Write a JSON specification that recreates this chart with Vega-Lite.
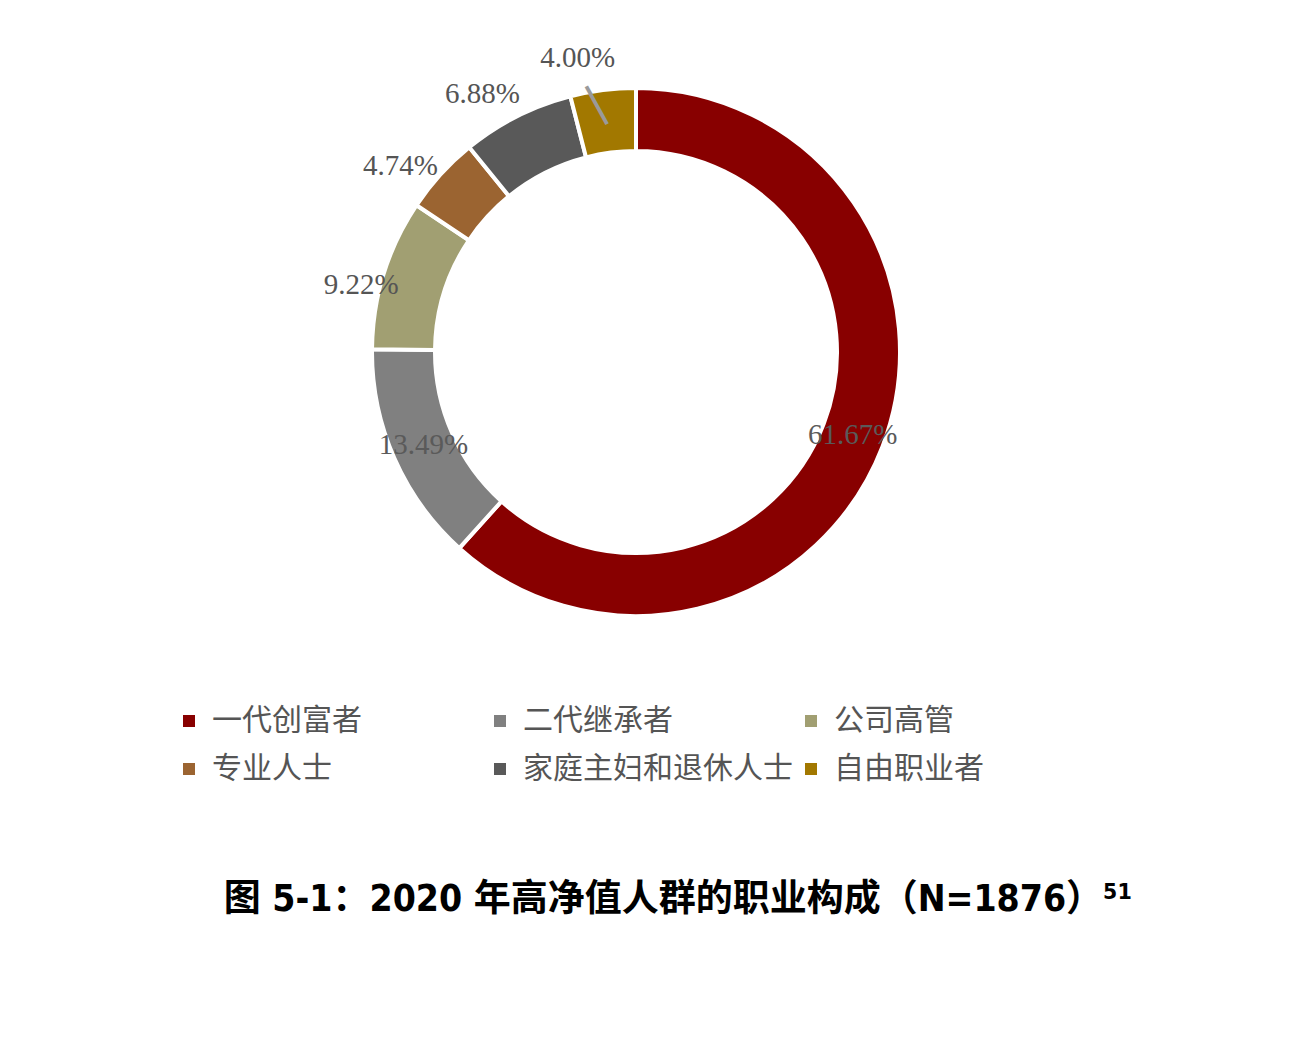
{
  "$schema": "https://vega.github.io/schema/vega-lite/v6.json",
  "width": 1272,
  "height": 704,
  "padding": {"left": 0, "top": 0, "right": 0, "bottom": 60},
  "background": "white",
  "config": {"view": {"stroke": null}},
  "title": {
    "text": "图 5-1：2020 年高净值人群的职业构成（N=1876）⁵¹",
    "orient": "bottom",
    "anchor": "middle",
    "offset": 98,
    "font": "DejaVu Sans Condensed, Noto Sans CJK SC",
    "fontSize": 37,
    "fontWeight": "bold",
    "color": "#000000",
    "dx": 42
  },
  "data": {
    "values": [
      {"group": "一代创富者", "value": 61.67, "label": "61.67%", "order": 1},
      {"group": "二代继承者", "value": 13.49, "label": "13.49%", "order": 2},
      {"group": "公司高管", "value": 9.22, "label": "9.22%", "order": 3},
      {"group": "专业人士", "value": 4.74, "label": "4.74%", "order": 4},
      {"group": "家庭主妇和退休人士", "value": 6.88, "label": "6.88%", "order": 5},
      {"group": "自由职业者", "value": 4.0, "label": "4.00%", "order": 6}
    ]
  },
  "layer": [
    {
      "mark": {"type": "arc", "outerRadius": 264, "innerRadius": 201, "stroke": "white", "strokeWidth": 4},
      "encoding": {
        "theta": {"field": "value", "type": "quantitative", "stack": true},
        "order": {"field": "order", "type": "quantitative"},
        "color": {
          "field": "group",
          "type": "nominal",
          "sort": null,
          "scale": {
            "domain": ["一代创富者", "二代继承者", "公司高管", "专业人士", "家庭主妇和退休人士", "自由职业者"],
            "range": ["#880000", "#808080", "#a19f72", "#9b6431", "#595959", "#a27800"]
          },
          "legend": {
            "title": null,
            "orient": "none",
            "legendX": 174,
            "legendY": 706,
            "direction": "horizontal",
            "columns": 3,
            "gridAlign": "all",
            "columnPadding": 3,
            "rowPadding": 18,
            "symbolType": "square",
            "symbolSize": 144,
            "symbolStrokeWidth": 0,
            "labelFont": "Noto Sans CJK SC",
            "labelFontSize": 30,
            "labelColor": "#555555",
            "labelOffset": 8,
            "labelLimit": 400
          }
        }
      }
    },
    {
      "mark": {"type": "text", "font": "Liberation Serif", "fontSize": 29, "fill": "#5a5a5a", "radius": 232},
      "encoding": {
        "theta": {"field": "value", "type": "quantitative", "stack": true},
        "order": {"field": "order", "type": "quantitative"},
        "text": {"condition": {"test": "datum.value >= 10", "field": "label"}, "value": ""}
      }
    },
    {
      "mark": {"type": "text", "font": "Liberation Serif", "fontSize": 29, "fill": "#555555", "radius": 283, "thetaOffset": -0.06},
      "encoding": {
        "theta": {"field": "value", "type": "quantitative", "stack": true},
        "order": {"field": "order", "type": "quantitative"},
        "text": {"condition": {"test": "datum.value >= 9 && datum.value < 10", "field": "label"}, "value": ""}
      }
    },
    {
      "mark": {"type": "text", "font": "Liberation Serif", "fontSize": 29, "fill": "#555555", "radius": 300, "thetaOffset": -0.07},
      "encoding": {
        "theta": {"field": "value", "type": "quantitative", "stack": true},
        "order": {"field": "order", "type": "quantitative"},
        "text": {"condition": {"test": "datum.value < 9", "field": "label"}, "value": ""}
      }
    },
    {
      "mark": {"type": "text", "font": "Liberation Sans", "fontSize": 46, "fill": "#9a9a9a", "radius": 252, "thetaOffset": -0.035, "angle": 331},
      "encoding": {
        "theta": {"field": "value", "type": "quantitative", "stack": true},
        "order": {"field": "order", "type": "quantitative"},
        "text": {"condition": {"test": "datum.order == 6", "value": "|"}, "value": ""}
      }
    }
  ]
}
